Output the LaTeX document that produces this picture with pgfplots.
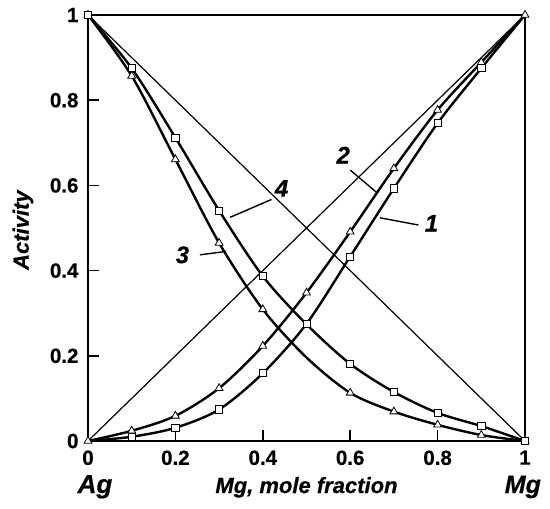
\documentclass[border=0pt]{standalone}
\usepackage{pgfplots}
\pgfplotsset{compat=1.18}
\usepackage{fontspec}
\setmainfont{Liberation Sans}[BoldFeatures={FakeBold=0.6},BoldItalicFeatures={FakeBold=0.6}]
\begin{document}
\begin{tikzpicture}
\begin{axis}[name=ax, scale only axis, width=437pt, height=426pt,
  xmin=0, xmax=1, ymin=0, ymax=1,
  xtick={0,0.2,0.4,0.6,0.8,1}, ytick={0,0.2,0.4,0.6,0.8,1},
  tick align=inside, tick pos=left, major tick length=11pt,
  axis line style={line width=2pt},
  major tick style={line width=1.5pt, black},
  /pgf/number format/assume math mode=true,
  ticklabel style={font=\fontsize{20.5}{20.5}\selectfont\bfseries},
  xticklabel style={yshift=-6pt}, yticklabel style={xshift=-6pt},
  clip=false]
% Raoult lines
\addplot[black, line width=1.2pt] coordinates {(0,0) (1,1)};
\addplot[black, line width=1.2pt] coordinates {(0,1) (1,0)};
% curve 3 (falling, triangles)
\addplot[black, line width=2.4pt, smooth] coordinates {
(0,1) (0.1,0.857) (0.2,0.661) (0.3,0.465) (0.4,0.309) (0.5,0.196) (0.6,0.113) (0.7,0.069) (0.8,0.038) (0.9,0.014) (1,0)};
\addplot[only marks, mark=triangle*, mark size=4.5pt, mark options={fill=white, draw=black, line width=0.8pt}] coordinates {
(0,1) (0.1,0.857) (0.2,0.661) (0.3,0.465) (0.4,0.309) (0.6,0.113) (0.7,0.069) (0.8,0.038) (0.9,0.014) (1,0)};
% curve 4 (falling, squares)
\addplot[black, line width=2.4pt, smooth] coordinates {
(0,1) (0.1,0.875) (0.2,0.712) (0.3,0.541) (0.4,0.387) (0.5,0.274) (0.6,0.181) (0.7,0.115) (0.8,0.066) (0.9,0.035) (1,0)};
% curve 1 (rising, squares)
\addplot[black, line width=2.4pt, smooth] coordinates {
(0,0) (0.1,0.01) (0.2,0.031) (0.3,0.074) (0.4,0.159) (0.5,0.275) (0.6,0.433) (0.7,0.593) (0.8,0.746) (0.9,0.875) (1,1)};
% curve 2 (rising, triangles)
\addplot[black, line width=2.4pt, smooth] coordinates {
(0,0) (0.1,0.024) (0.2,0.059) (0.3,0.124) (0.4,0.223) (0.5,0.348) (0.6,0.491) (0.7,0.64) (0.8,0.777) (0.9,0.889) (1,1)};
% markers
\addplot[only marks, mark=square*, mark size=3.6pt, mark options={fill=white, draw=black, line width=0.8pt}] coordinates {
(0,1) (0.1,0.875) (0.2,0.712) (0.3,0.541) (0.4,0.387) (0.5,0.274) (0.6,0.181) (0.7,0.115) (0.8,0.066) (0.9,0.035) (1,0)};
\addplot[only marks, mark=square*, mark size=3.6pt, mark options={fill=white, draw=black, line width=0.8pt}] coordinates {
(0.1,0.01) (0.2,0.031) (0.3,0.074) (0.4,0.159) (0.6,0.433) (0.7,0.593) (0.8,0.746) (0.9,0.875)};
\addplot[only marks, mark=triangle*, mark size=4.5pt, mark options={fill=white, draw=black, line width=0.8pt}] coordinates {
(0,0) (0.1,0.024) (0.2,0.059) (0.3,0.124) (0.4,0.223) (0.5,0.348) (0.6,0.491) (0.7,0.64) (0.8,0.777) (0.9,0.889) (1,1)};
% leader lines
\addplot[black, line width=1.4pt] coordinates {(0.600,0.636) (0.661,0.583)};
\addplot[black, line width=1.4pt] coordinates {(0.756,0.507) (0.668,0.524)};
\addplot[black, line width=1.4pt] coordinates {(0.420,0.567) (0.325,0.525)};
\addplot[black, line width=1.4pt] coordinates {(0.256,0.437) (0.316,0.445)};
% curve numbers
\node[font=\fontsize{24}{24}\selectfont\bfseries\itshape] at (axis cs:0.584,0.671) {2};
\node[font=\fontsize{24}{24}\selectfont\bfseries\itshape] at (axis cs:0.786,0.511) {1};
\node[font=\fontsize{24}{24}\selectfont\bfseries\itshape] at (axis cs:0.443,0.593) {4};
\node[font=\fontsize{24}{24}\selectfont\bfseries\itshape] at (axis cs:0.216,0.437) {3};
% axis texts
\node[anchor=base, yshift=-52pt, font=\fontsize{22}{22}\selectfont\bfseries\itshape] at (axis cs:0.5,0) {Mg, mole fraction};
\node[anchor=base, yshift=-52pt, font=\fontsize{26}{26}\selectfont\bfseries\itshape] at (axis cs:0.016,0) {Ag};
\node[anchor=base, yshift=-52pt, font=\fontsize{25}{25}\selectfont\bfseries\itshape] at (axis cs:0.995,0) {Mg};
\node[rotate=90, font=\fontsize{22}{22}\selectfont\bfseries\itshape] at ([xshift=-65pt]axis cs:0,0.495) {Activity};
\end{axis}
\pgfresetboundingbox
\path[use as bounding box] ([xshift=-88pt,yshift=-67pt]ax.south west) rectangle ([xshift=25pt,yshift=15pt]ax.north east);
\end{tikzpicture}
\end{document}
